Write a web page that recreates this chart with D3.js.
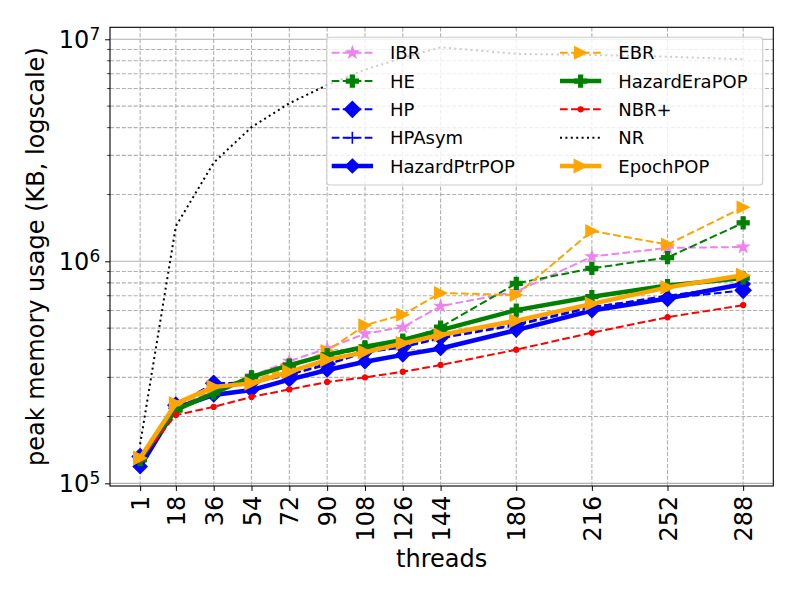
<!DOCTYPE html>
<html>
<head>
<meta charset="utf-8">
<script src="https://cdn.jsdelivr.net/npm/d3@7"></script>
<style>
    body { margin: 0; background: #fff; }
    svg { font-family: "DejaVu Sans", sans-serif; }
</style>
</head>
<body>
<svg id="chart" width="800" height="600"></svg>
<script>
// thread counts (also the x tick labels)
const threads = [1, 18, 36, 54, 72, 90, 108, 126, 144, 180, 216, 252, 288];

// peak memory usage in KB
const ibr = [1.28e5, 2.2e5, 2.6e5, 3.05e5, 3.55e5, 4.05e5, 4.72e5, 5.05e5, 6.28e5, 7.3e5, 1.05e6, 1.15e6, 1.16e6];
const he = [1.28e5, 2.14e5, 2.55e5, 3.0e5, 3.4e5, 3.75e5, 4.05e5, 4.35e5, 5.05e5, 7.95e5, 9.3e5, 1.04e6, 1.49e6];
const hp = [1.32e5, 2.25e5, 2.82e5, 2.85e5, 3.1e5, 3.45e5, 3.92e5, 4.12e5, 4.55e5, 5.2e5, 6.25e5, 6.8e5, 7.4e5];
const hpAsym = [1.3e5, 2.22e5, 2.8e5, 2.83e5, 3.08e5, 3.42e5, 3.88e5, 4.1e5, 4.5e5, 5.15e5, 6.2e5, 7.0e5, 7.8e5];
const hazardPtrPop = [1.19e5, 2.18e5, 2.5e5, 2.63e5, 2.93e5, 3.24e5, 3.53e5, 3.79e5, 4.05e5, 4.9e5, 6.0e5, 6.8e5, 7.9e5];
const ebr = [1.3e5, 2.25e5, 2.65e5, 2.9e5, 3.3e5, 3.95e5, 5.15e5, 5.75e5, 7.2e5, 7.05e5, 1.37e6, 1.19e6, 1.75e6];
const hazardEraPop = [1.28e5, 2.14e5, 2.55e5, 3.02e5, 3.41e5, 3.79e5, 4.12e5, 4.42e5, 4.9e5, 6.03e5, 6.93e5, 7.78e5, 8.4e5];
const nbrPlus = [1.28e5, 2.03e5, 2.21e5, 2.45e5, 2.65e5, 2.86e5, 3.0e5, 3.18e5, 3.41e5, 4.0e5, 4.77e5, 5.6e5, 6.35e5];
const nr = [1.5e5, 1.44e6, 2.78e6, 4.02e6, 5.15e6, 6.22e6, 7.3e6, 8.25e6, 9.2e6, 8.6e6, 8.5e6, 8.35e6, 8.13e6];
const epochPop = [1.3e5, 2.29e5, 2.72e5, 2.82e5, 3.18e5, 3.6e5, 3.9e5, 4.27e5, 4.66e5, 5.4e5, 6.43e5, 7.63e5, 8.66e5];

const seriesNames = ["IBR", "HE", "HP", "HPAsym", "HazardPtrPOP", "EBR", "HazardEraPOP", "NBR+", "NR", "EpochPOP"];
const seriesValues = [ibr, he, hp, hpAsym, hazardPtrPop, ebr, hazardEraPop, nbrPlus, nr, epochPop];

const yMajor = [1e5, 1e6, 1e7];

// look of each series
const dashed = "7.7,3.3";
const styles = {
    "IBR": { color: "violet", width: 2, dash: dashed, marker: "star", r: 6 },
    "HE": { color: "green", width: 2, dash: dashed, marker: "cross", r: 6 },
    "HP": { color: "blue", width: 2, dash: dashed, marker: "diamond", r: 8 },
    "HPAsym": { color: "blue", width: 2, dash: dashed, marker: "plus", r: 6 },
    "HazardPtrPOP": { color: "blue", width: 4.5, dash: null, marker: "diamond", r: 7 },
    "EBR": { color: "orange", width: 2, dash: dashed, marker: "triangle", r: 6 },
    "HazardEraPOP": { color: "green", width: 4.5, dash: null, marker: "cross", r: 6 },
    "NBR+": { color: "red", width: 2, dash: dashed, marker: "circle", r: 2.6 },
    "NR": { color: "black", width: 2, dash: "2,3.4", marker: null, r: 0 },
    "EpochPOP": { color: "orange", width: 4.5, dash: null, marker: "triangle", r: 6.5 }
};

function markerPath(kind, r) {
    if (kind === "star") return d3.symbol(d3.symbolStar, r * r / 0.8908)();
    if (kind === "cross") return d3.symbol(d3.symbolCross, Math.pow(r * 2 / 3, 2) * 5)();
    if (kind === "circle") return d3.symbol(d3.symbolCircle, Math.PI * r * r)();
    if (kind === "diamond") return "M0," + (-r) + "L" + r + ",0L0," + r + "L" + (-r) + ",0Z";
    if (kind === "triangle") return "M" + r + ",0L" + (-r) + "," + (-r) + "L" + (-r) + "," + r + "Z";
    if (kind === "plus") return "M" + (-r) + ",0H" + r + "M0," + (-r) + "V" + r;
    return null;
}

function drawMarker(sel, st) {
    const p = sel.append("path")
        .attr("d", markerPath(st.marker, st.r))
        .attr("stroke", st.color)
        .attr("stroke-width", st.marker === "plus" ? 1.6 : 1.2)
        .attr("fill", st.marker === "plus" ? "none" : st.color);
    return p;
}

const margin = { left: 110, right: 26.7, top: 27.3, bottom: 114 };
const svg = d3.select("#chart");
const width = 800 - margin.left - margin.right;
const height = 600 - margin.top - margin.bottom;
const bigFont = "24px";

const chart = svg.append("g")
    .attr("transform", "translate(" + margin.left + "," + margin.top + ")");

const xScale = d3.scaleLinear()
    .domain([-13.35, 302.35])
    .range([0, width]);

const yScale = d3.scaleLog()
    .domain([Math.pow(10, 4.988), Math.pow(10, 7.054)])
    .range([height, 0]);

// grid
const yMinor = [];
[1e5, 1e6].forEach(function (dec) {
    for (let k = 2; k <= 9; k++) yMinor.push(dec * k);
});

chart.append("g").selectAll("line")
    .data(yMinor)
    .join("line")
    .attr("x1", 0).attr("x2", width)
    .attr("y1", d => yScale(d)).attr("y2", d => yScale(d))
    .attr("stroke", "#b0b0b0").attr("stroke-width", 1.1)
    .attr("stroke-dasharray", "4.1,1.8");

chart.append("g").selectAll("line")
    .data(yMajor)
    .join("line")
    .attr("x1", 0).attr("x2", width)
    .attr("y1", d => yScale(d)).attr("y2", d => yScale(d))
    .attr("stroke", "#b0b0b0").attr("stroke-width", 1.1);

chart.append("g").selectAll("line")
    .data(threads)
    .join("line")
    .attr("x1", d => xScale(d)).attr("x2", d => xScale(d))
    .attr("y1", 0).attr("y2", height)
    .attr("stroke", "#b0b0b0").attr("stroke-width", 1.1)
    .attr("stroke-dasharray", "4.1,1.8");

// axes
const xAxis = chart.append("g")
    .attr("transform", "translate(0," + height + ")")
    .call(d3.axisBottom(xScale).tickValues(threads).tickSize(4.9).tickPadding(4.9).tickSizeOuter(0));
xAxis.select(".domain").remove();
xAxis.selectAll("text")
    .attr("font-size", bigFont)
    .attr("font-family", "DejaVu Sans")
    .attr("fill", "#000")
    .attr("transform", "rotate(-90)")
    .attr("text-anchor", "end")
    .attr("x", -9.8)
    .attr("y", 0)
    .attr("dy", "0.36em");

const yAxis = chart.append("g")
    .call(d3.axisLeft(yScale).tickValues(yMajor).tickSize(4.9).tickPadding(4.9).tickSizeOuter(0));
yAxis.select(".domain").remove();
yAxis.selectAll("text")
    .attr("font-size", bigFont)
    .attr("font-family", "DejaVu Sans")
    .attr("fill", "#000")
    .attr("dy", "0.36em")
    .each(function (d) {
        const t = d3.select(this);
        t.text("");
        t.append("tspan").text("10");
        t.append("tspan").attr("dy", "-0.5em").attr("font-size", "17px")
            .text(Math.round(Math.log10(d)));
    });

chart.append("g").selectAll("line")
    .data(yMinor)
    .join("line")
    .attr("x1", -2.8).attr("x2", 0)
    .attr("y1", d => yScale(d)).attr("y2", d => yScale(d))
    .attr("stroke", "#000").attr("stroke-width", 0.8);

// series
const line = d3.line()
    .x(function (d) { return xScale(d[0]) })
    .y(function (d) { return yScale(d[1]) });

seriesNames.forEach(function (name, i) {
    const st = styles[name];
    const pts = threads.map(function (t, j) { return [t, seriesValues[i][j]]; });
    const g = chart.append("g");
    g.append("path")
        .datum(pts)
        .attr("fill", "none")
        .attr("stroke", st.color)
        .attr("stroke-width", st.width)
        .attr("stroke-dasharray", st.dash)
        .attr("d", line);
    if (st.marker) {
        g.selectAll("g.m")
            .data(pts)
            .join("g")
            .attr("class", "m")
            .attr("transform", d => "translate(" + xScale(d[0]) + "," + yScale(d[1]) + ")")
            .each(function () { drawMarker(d3.select(this), st); });
    }
});

// frame
chart.append("rect")
    .attr("width", width).attr("height", height)
    .attr("fill", "none").attr("stroke", "#000").attr("stroke-width", 1.1);

// labels
svg.append("text")
    .attr("x", margin.left + width / 2)
    .attr("y", 567)
    .attr("text-anchor", "middle")
    .attr("font-size", bigFont)
    .text("threads");

svg.append("text")
    .attr("transform", "translate(44," + (margin.top + height / 2) + ") rotate(-90)")
    .attr("text-anchor", "middle")
    .attr("font-size", bigFont)
    .text("peak memory usage (KB, logscale)");

// legend, filled column by column
const legend = svg.append("g");
legend.append("rect")
    .attr("x", 326.7).attr("y", 37.3)
    .attr("width", 436).attr("height", 147.7)
    .attr("rx", 3)
    .attr("fill", "#fff").attr("fill-opacity", 0.8)
    .attr("stroke", "#cccccc").attr("stroke-width", 1.1);

seriesNames.forEach(function (name, i) {
    const st = styles[name];
    const col = Math.floor(i / 5), row = i % 5;
    const x0 = col === 0 ? 331.7 : 560;
    const cy = 52.7 + row * 28.33;
    const item = legend.append("g");
    item.append("line")
        .attr("x1", x0).attr("x2", x0 + 41.3)
        .attr("y1", cy).attr("y2", cy)
        .attr("stroke", st.color)
        .attr("stroke-width", st.width)
        .attr("stroke-dasharray", st.dash);
    if (st.marker) {
        const m = item.append("g").attr("transform", "translate(" + (x0 + 20.65) + "," + cy + ")");
        drawMarker(m, st);
    }
    item.append("text")
        .attr("x", x0 + 58.3)
        .attr("y", cy + 6.5)
        .attr("font-size", "18px")
        .text(name);
});
</script>
</body>
</html>
